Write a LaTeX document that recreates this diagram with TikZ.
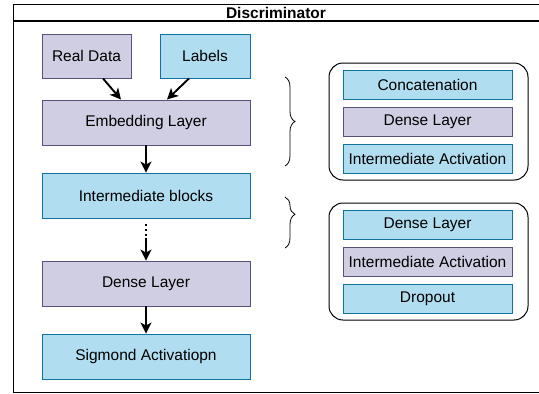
\documentclass[tikz,border=0pt]{standalone}
\usepackage{fontspec}
\setmainfont{Liberation Sans}
\usetikzlibrary{arrows.meta,decorations.pathreplacing,calc}
\definecolor{lavfill}{HTML}{D0CEE2}
\definecolor{lavline}{HTML}{56517E}
\definecolor{bluefill}{HTML}{B1DDF0}
\definecolor{blueline}{HTML}{10739E}
\tikzset{
  lbl/.style={font=\fontsize{15.5}{18}\selectfont, inner sep=0pt, align=center},
  lavbox/.style={lbl, draw=lavline, fill=lavfill, line width=0.9pt},
  bluebox/.style={lbl, draw=blueline, fill=bluefill, line width=0.9pt},
  wide/.style={minimum width=208pt, minimum height=45pt},
  small/.style={minimum width=89pt, minimum height=44pt},
  inner/.style={minimum width=169pt, minimum height=29pt},
  group/.style={draw=black, line width=1pt, rounded corners=14pt},
  flow/.style={line width=1.9pt, -{Stealth[length=11pt,width=11pt,inset=3pt]}},
  curly/.style={draw, line width=0.8pt, decorate}
}
\begin{document}
\begin{tikzpicture}[x=1pt, y=-1pt]
\useasboundingbox (0,0) rectangle (539,394);

% outer frame with title bar
\draw[line width=1pt] (545,4) -- (13,4) -- (13,392.5) -- (545,392.5);
\draw[line width=1.2pt] (13,21) -- (545,21);
\node[lbl, font=\fontsize{15.5}{18}\selectfont\bfseries] (title) at (276,12.5) {Discriminator};

% main column
\node[lavbox, small] (rd) at (86.5,56) {Real Data};
\node[bluebox, small, minimum width=90pt] (lb) at (205,56) {Labels};
\node[lavbox, wide] (emb) at (146,122.5) {Embedding Layer};
\node[bluebox, wide] (ib) at (146,195.5) {Intermediate blocks};
\node[lavbox, wide] (dl) at (146,283.5) {Dense Layer};
\node[bluebox, wide] (sa) at (146,356.5) {Sigmond Activatiopn};

\draw[flow] ([xshift=16.5pt]rd.south) -- ([xshift=-25pt]emb.north);
\draw[flow] ([xshift=-16pt]lb.south) -- ([xshift=21pt]emb.north);
\draw[flow] (emb.south) -- (ib.north);
\coordinate (d1) at ($(ib.south)+(0,6)$);
\coordinate (d2) at ($(ib.south)+(0,20)$);
\draw[line width=1.4pt, dash pattern=on 1.4pt off 3.6pt] (d1) -- (d2);
\draw[flow] (d2) -- (dl.north);
\draw[flow] (dl.south) -- (sa.north);

% braces
\draw[curly, decoration={brace, amplitude=10pt, aspect=0.5}] (285,77) -- (285,166);
\draw[curly, decoration={brace, amplitude=10pt, aspect=0.34}] (285,197) -- (285,248);

% first group
\draw[group] (329,63) rectangle (528,180);
\node[bluebox, inner] (cc) at (427.5,85) {Concatenation};
\node[lavbox, inner] (gd1) at (427.5,122) {Dense Layer};
\node[bluebox, inner] (ia1) at (427.5,158.5) {Intermediate Activation};

% second group
\draw[group] (329,203) rectangle (528,320);
\node[bluebox, inner] (gd2) at (427.5,225) {Dense Layer};
\node[lavbox, inner] (ia2) at (427.5,261.5) {Intermediate Activation};
\node[bluebox, inner] (dp) at (427.5,298.5) {Dropout};
\end{tikzpicture}
\end{document}
